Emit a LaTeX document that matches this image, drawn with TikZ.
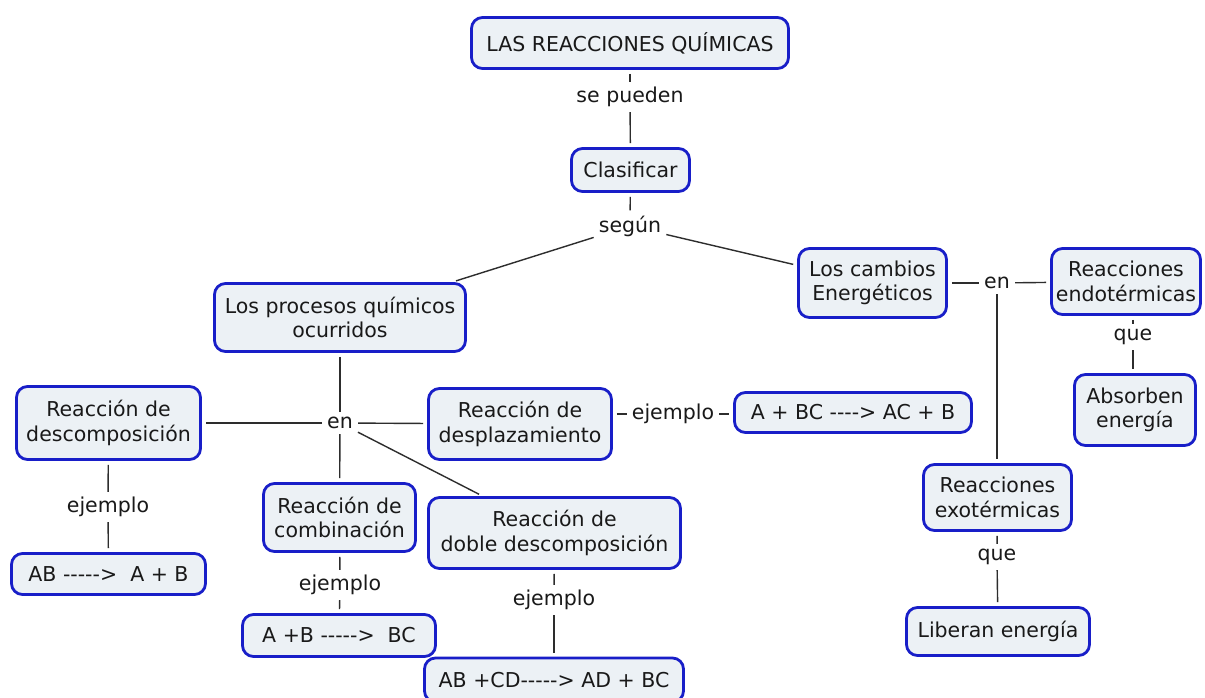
\documentclass[tikz,border=0pt]{standalone}
\usepackage{fontspec}
\setmainfont{DejaVu Sans}
\definecolor{cborder}{RGB}{24,30,200}
\definecolor{cfill}{RGB}{236,241,245}
\definecolor{ctext}{RGB}{25,25,25}
\definecolor{cline}{RGB}{45,45,45}
\newcommand\mapfont{\fontsize{20.5}{24.5}\selectfont}
\begin{document}
\begin{tikzpicture}[x=1pt,y=-1pt,
  concept/.style={draw=cborder, fill=cfill, line width=2.8pt, rounded corners=11pt,
    align=center, inner sep=0pt, text=ctext, font=\mapfont},
  lab/.style={inner sep=5pt, text=ctext, font=\mapfont},
  link/.style={draw=cline, line width=1.4pt},
  tobox/.style={link, shorten >=4pt},
  frombox/.style={link, shorten <=4pt}]
\useasboundingbox[fill=white] (0,0) rectangle (1205,698);

% concepts
\node[concept, minimum width=317pt, minimum height=51pt] (top) at (630,43) {LAS REACCIONES QUÍMICAS};
\node[concept, minimum width=118pt, minimum height=43pt] (clas) at (630.5,170) {Clasificar};
\node[concept, minimum width=251pt, minimum height=68pt] (proc) at (340,317.5) {Los procesos químicos\\ocurridos};
\node[concept, minimum width=148pt, minimum height=69pt] (camb) at (872.5,283) {Los cambios\\Energéticos};
\node[concept, minimum width=149pt, minimum height=66pt] (endo) at (1126,281.5) {Reacciones\\endotérmicas};
\node[concept, minimum width=121pt, minimum height=71pt] (abs) at (1135,410) {Absorben\\energía};
\node[concept, minimum width=148pt, minimum height=66pt] (exo) at (997.5,497.5) {Reacciones\\exotérmicas};
\node[concept, minimum width=183pt, minimum height=48pt] (lib) at (998,631.5) {Liberan energía};
\node[concept, minimum width=184pt, minimum height=73pt] (desc) at (108.5,423) {Reacción de\\descomposición};
\node[concept, minimum width=194pt, minimum height=41pt] (ab) at (108.5,574) {AB -{}-{}-{}-{}-> \ A + B};
\node[concept, minimum width=152pt, minimum height=68pt] (comb) at (339.5,517.5) {Reacción de\\combinación};
\node[concept, minimum width=193pt, minimum height=42pt] (apb) at (339,635.5) {A +B -{}-{}-{}-{}-> \ BC};
\node[concept, minimum width=183pt, minimum height=71pt] (despl) at (520,424) {Reacción de\\desplazamiento};
\node[concept, minimum width=237pt, minimum height=40pt] (abc) at (853,412.5) {A + BC -{}-{}-{}-> AC + B};
\node[concept, minimum width=252pt, minimum height=71pt] (doble) at (554.5,533) {Reacción de\\doble descomposición};
\node[concept, minimum width=259pt, minimum height=44pt] (abcd) at (554,680) {AB +CD-{}-{}-{}-{}-> AD + BC};

% linking phrases
\node[lab] (sp) at (630,97) {se pueden};
\node[lab] (seg) at (630,226) {según};
\node[lab] (en1) at (997,283) {en};
\node[lab] (que1) at (1133,337) {que};
\node[lab] (que2) at (997,557) {que};
\node[lab] (en2) at (340,423) {en};
\node[lab] (ej1) at (108,507) {ejemplo};
\node[lab] (ej2) at (340,585) {ejemplo};
\node[lab] (ej3) at (673,414) {ejemplo};
\node[lab] (ej4) at (554,600) {ejemplo};

% connectors
\draw[frombox] (top) -- (sp);
\draw[tobox] (sp) -- (clas);
\draw[frombox] (clas) -- (seg);
\draw[tobox] (seg) -- (proc);
\draw[tobox] (seg) -- (camb);

\draw[frombox] (camb) -- (en1);
\draw[tobox] (en1) -- (endo);
\draw[tobox] (en1) -- (en1 |- exo.north);
\draw[frombox] (endo.south -| que1) -- (que1);
\draw[tobox] (que1) -- (que1 |- abs.north);
\draw[frombox] (exo) -- (que2);
\draw[tobox] (que2) -- (lib);

\draw[frombox] (proc) -- (en2);
\draw[tobox] (en2) -- (desc);
\draw[tobox] (en2) -- (despl);
\draw[tobox] (en2) -- (comb);
\draw[tobox] (en2) -- (doble);

\draw[frombox] (desc) -- (ej1);
\draw[tobox] (ej1) -- (ab);
\draw[frombox] (comb) -- (ej2);
\draw[tobox] (ej2) -- (apb);
\draw[frombox] (despl.east |- ej3) -- (ej3);
\draw[tobox] (ej3) -- (ej3 -| abc.west);
\draw[frombox] (doble) -- (ej4);
\draw[tobox] (ej4) -- (abcd);
\end{tikzpicture}
\end{document}
